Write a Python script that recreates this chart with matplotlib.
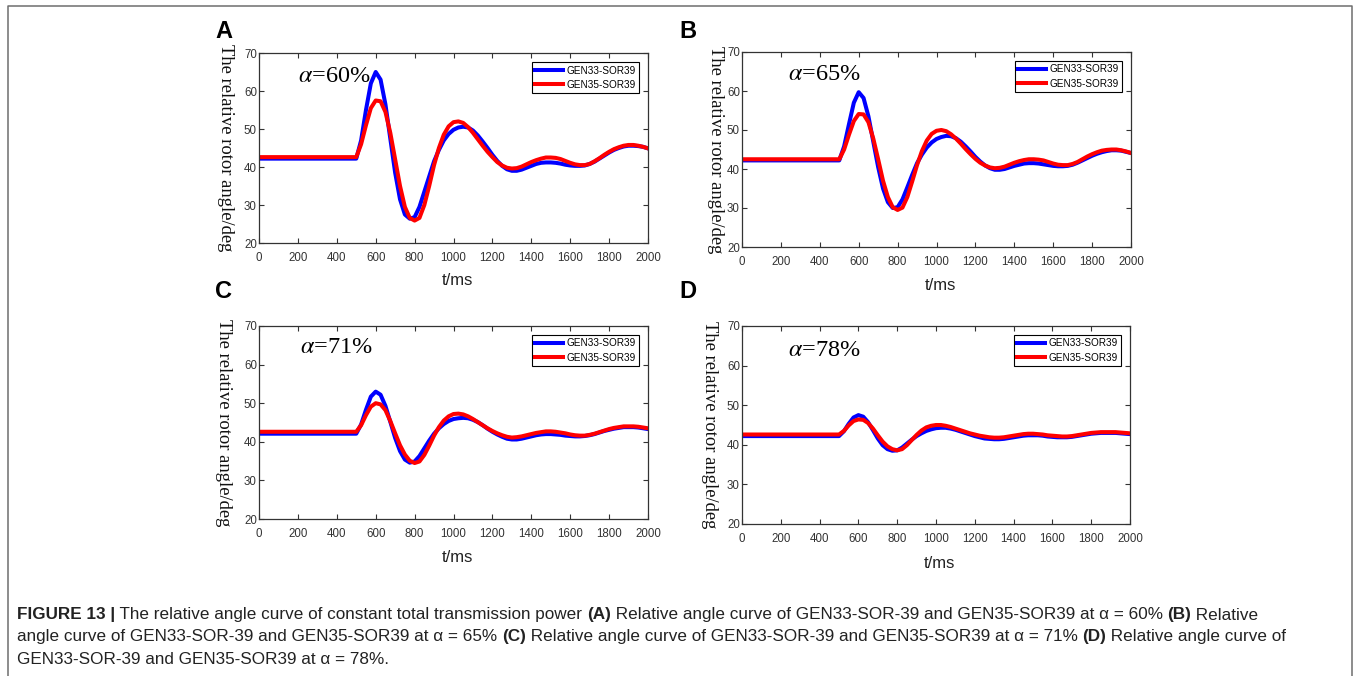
import matplotlib

matplotlib.use("Agg")
import matplotlib.pyplot as plt
from matplotlib.lines import Line2D

plt.rcParams["mathtext.fontset"] = "stix"
plt.rcParams["font.family"] = "Liberation Sans"

# sample times (ms): steady state until the fault at 500 ms, then 25 ms steps
T = [0, 500, 525, 550, 575, 600, 625, 650, 675, 700, 725, 750, 775, 800, 825, 850,
     875, 900, 925, 950, 975, 1000, 1025, 1050, 1075, 1100, 1125, 1150, 1175, 1200,
     1225, 1250, 1275, 1300, 1325, 1350, 1375, 1400, 1425, 1450, 1475, 1500, 1525,
     1550, 1575, 1600, 1625, 1650, 1675, 1700, 1725, 1750, 1775, 1800, 1825, 1850,
     1875, 1900, 1925, 1950, 1975, 2000]

panels = ["A", "B", "C", "D"]
alphas = ["60%", "65%", "71%", "78%"]
series_names = ["GEN33-SOR39", "GEN35-SOR39"]

gen33_a = [42.2, 42.2, 47, 55, 62, 65, 63, 56.5, 47.5, 38.5, 31.5, 27.5, 26.4, 26.8, 29.5, 33.5,
           37.5, 41.5, 44.5, 47, 48.7, 49.8, 50.4, 50.6, 50.4, 49.6, 48.3, 46.7, 45, 43.2,
           41.6, 40.3, 39.4, 39, 39, 39.3, 39.8, 40.3, 40.8, 41.1, 41.2, 41.2, 41.1,
           40.9, 40.6, 40.4, 40.3, 40.3, 40.4, 40.8, 41.4, 42.2, 43, 43.8, 44.5, 45,
           45.4, 45.6, 45.6, 45.5, 45.3, 44.9]
gen35_a = [42.6, 42.6, 46, 51, 55.5, 57.5, 57.3, 54.5, 49, 42, 35, 29.5, 26.6, 25.9, 26.6, 30,
           35, 40.5, 45, 48.5, 50.7, 51.8, 52, 51.6, 50.5, 49, 47.3, 45.6, 44, 42.6,
           41.3, 40.4, 39.8, 39.6, 39.7, 40.1, 40.7, 41.3, 41.8, 42.2, 42.5, 42.5, 42.4,
           42.1, 41.6, 41.1, 40.7, 40.5, 40.5, 40.8, 41.5, 42.3, 43.2, 44, 44.7, 45.2,
           45.6, 45.8, 45.8, 45.6, 45.3, 44.9]

gen33_b = [42.2, 42.2, 45.8, 51.5, 57, 59.7, 58.2, 53.5, 47, 40.5, 35, 31.5, 30, 30.2, 32.2, 35.3,
           38.5, 41.5, 43.7, 45.5, 46.8, 47.7, 48.2, 48.5, 48.4, 47.9, 47, 45.8, 44.5, 43.1,
           41.9, 40.9, 40.2, 39.8, 39.8, 40, 40.4, 40.8, 41.1, 41.4, 41.5, 41.5, 41.4,
           41.2, 41, 40.8, 40.7, 40.7, 40.8, 41.1, 41.6, 42.2, 42.8, 43.4, 43.9, 44.3,
           44.6, 44.8, 44.8, 44.7, 44.4, 44.1]
gen35_b = [42.5, 42.5, 45, 48.8, 52.3, 54.1, 54, 52, 47.8, 42.5, 37, 32.8, 30.2, 29.5, 30.1, 32.8,
           36.8, 41, 44.6, 47.3, 49, 49.8, 50, 49.7, 48.9, 47.8, 46.5, 45.1, 43.8, 42.6,
           41.6, 40.9, 40.4, 40.2, 40.3, 40.6, 41.1, 41.6, 42, 42.3, 42.5, 42.5, 42.4,
           42.2, 41.8, 41.4, 41.1, 41, 41, 41.3, 41.8, 42.5, 43.2, 43.8, 44.3, 44.7,
           44.9, 45, 45, 44.8, 44.5, 44.1]

gen33_c = [42.1, 42.1, 44.5, 48.3, 51.7, 53, 52.2, 49.3, 45.2, 41, 37.6, 35.4, 34.6, 34.9, 36.3, 38.3,
           40.3, 42.1, 43.5, 44.6, 45.4, 45.9, 46.1, 46.2, 46.1, 45.7, 45.1, 44.3, 43.4, 42.6,
           41.9, 41.3, 40.8, 40.6, 40.6, 40.8, 41.1, 41.4, 41.7, 41.9, 42, 42, 41.9,
           41.8, 41.6, 41.5, 41.4, 41.4, 41.5, 41.7, 42, 42.4, 42.8, 43.1, 43.4, 43.6,
           43.8, 43.8, 43.8, 43.7, 43.5, 43.3]
gen35_c = [42.6, 42.6, 44.3, 46.9, 49.1, 50, 49.7, 48.2, 45.4, 42.2, 39.1, 36.7, 35.1, 34.5, 34.9, 36.6,
           39, 41.6, 43.8, 45.5, 46.6, 47.2, 47.3, 47.1, 46.6, 45.9, 45.1, 44.3, 43.5, 42.8,
           42.2, 41.7, 41.3, 41.1, 41.2, 41.4, 41.7, 42, 42.3, 42.5, 42.7, 42.7, 42.6,
           42.4, 42.2, 41.9, 41.7, 41.6, 41.6, 41.8, 42.1, 42.5, 42.9, 43.3, 43.6, 43.8,
           44, 44, 44, 43.9, 43.7, 43.5]

gen33_d = [42.2, 42.2, 43.4, 45.3, 46.9, 47.5, 47.1, 45.7, 43.7, 41.6, 39.9, 38.9, 38.5, 38.6, 39.3, 40.3,
           41.3, 42.2, 42.9, 43.5, 43.9, 44.2, 44.3, 44.3, 44.1, 43.8, 43.4, 43, 42.6, 42.2,
           41.9, 41.6, 41.5, 41.4, 41.4, 41.5, 41.7, 41.9, 42.1, 42.3, 42.4, 42.4, 42.4,
           42.3, 42.1, 42, 41.9, 41.9, 41.9, 42, 42.2, 42.4, 42.6, 42.8, 42.9, 43,
           43, 43, 43, 42.9, 42.8, 42.7]
gen35_d = [42.6, 42.6, 43.5, 44.9, 46, 46.4, 46.3, 45.5, 44.1, 42.4, 40.8, 39.6, 38.9, 38.6, 38.9, 39.9,
           41.2, 42.5, 43.6, 44.4, 44.8, 45, 45, 44.8, 44.5, 44.1, 43.7, 43.3, 42.9, 42.6,
           42.3, 42.1, 41.9, 41.8, 41.8, 41.9, 42.1, 42.3, 42.5, 42.7, 42.8, 42.8, 42.7,
           42.6, 42.4, 42.3, 42.2, 42.1, 42.1, 42.2, 42.4, 42.6, 42.8, 43, 43.1, 43.2,
           43.2, 43.2, 43.2, 43.1, 43, 42.9]

gen33 = [gen33_a, gen33_b, gen33_c, gen33_d]
gen35 = [gen35_a, gen35_b, gen35_c, gen35_d]

x_ticks = [0, 200, 400, 600, 800, 1000, 1200, 1400, 1600, 1800, 2000]
y_ticks = [20, 30, 40, 50, 60, 70]

W, H = 1356, 676
# axes boxes in pixels: left, top, right, bottom
boxes = [(259, 53, 648, 243), (742, 52, 1131, 247), (259, 326, 648, 519), (742, 326, 1130, 524)]
ylabel_x = [-0.087, -0.069, -0.092, -0.085]
alpha_pos = [(202, 63.8), (238, 64.2), (212, 64.5), (238, 63.9)]
letter_pos = [(215, 32), (679, 32), (215, 292), (679, 292)]

fig = plt.figure(figsize=(W / 100, H / 100), dpi=100)
axis_grey = "#333333"

for i in range(4):
    l, t, r, b = boxes[i]
    ax = fig.add_axes([l / W, 1 - b / H, (r - l) / W, (b - t) / H])
    ax.plot(T, gen33[i], color="#0000ff", lw=2.9, label=series_names[0],
            solid_joinstyle="round")
    ax.plot(T, gen35[i], color="#ff0000", lw=2.9, label=series_names[1],
            solid_joinstyle="round")
    ax.set_xlim(0, 2000)
    ax.set_ylim(20, 70)
    ax.set_xticks(x_ticks)
    ax.set_yticks(y_ticks)
    ax.tick_params(direction="in", top=True, right=True, length=3.5, width=0.8,
                   color=axis_grey, labelcolor="#333333", labelsize=8.3)
    ax.tick_params(axis="x", pad=6.5)
    ax.tick_params(axis="y", pad=1.5)
    for s in ax.spines.values():
        s.set_color(axis_grey)
        s.set_linewidth(0.9)
    ax.set_ylabel("The relative rotor angle/deg", family="Liberation Serif", fontsize=13.4,
                  rotation=270, va="center", color="#111111")
    ax.yaxis.set_label_coords(ylabel_x[i], 0.5)
    ax.set_xlabel("t/ms", fontsize=12, color="#222222")
    ax.xaxis.set_label_coords(0.51, -0.16)
    ax.text(alpha_pos[i][0], alpha_pos[i][1], r"$\alpha$=" + alphas[i],
            family="Liberation Serif", fontsize=17.5, va="center", ha="left")
    leg = ax.legend(loc="upper right", fontsize=7.2, frameon=True, fancybox=False,
                    edgecolor="#000000", framealpha=1, handlelength=2.8,
                    borderpad=0.35, labelspacing=0.42, handletextpad=0.3,
                    borderaxespad=0.9)
    leg.get_frame().set_linewidth(0.8)
    fig.text(letter_pos[i][0] / W, 1 - letter_pos[i][1] / H, panels[i],
             weight="bold", fontsize=17, va="center", ha="left")

# figure frame (open at the bottom, as in the page crop)
fx0, fx1, fy1 = 8 / W, 1352 / W, 1 - 6 / H
fig.add_artist(Line2D([fx0, fx0, fx1, fx1], [0, fy1, fy1, 0], transform=fig.transFigure,
                      color="#6e6e6e", lw=1.1))

# caption: pieces of (text, bold) laid out one after another on each line
cap_lines = [
    [("FIGURE 13 |", True), (" The relative angle curve of constant total transmission power ", False),
     ("(A)", True), (" Relative angle curve of GEN33-SOR-39 and GEN35-SOR39 at \u03b1 = 60% ", False),
     ("(B)", True), (" Relative", False)],
    [("angle curve of GEN33-SOR-39 and GEN35-SOR39 at \u03b1 = 65% ", False), ("(C)", True),
     (" Relative angle curve of GEN33-SOR-39 and GEN35-SOR39 at \u03b1 = 71% ", False),
     ("(D)", True), (" Relative angle curve of", False)],
    [("GEN33-SOR-39 and GEN35-SOR39 at \u03b1 = 78%.", False)],
]
cap_y = [615, 637, 660]
renderer = fig.canvas.get_renderer()
for line, yy in zip(cap_lines, cap_y):
    x = 17
    for txt, bold in line:
        tt = fig.text(x / W, 1 - yy / H, txt, fontsize=12.3,
                      weight="bold" if bold else "normal", va="center", ha="left",
                      color="#222222")
        x += tt.get_window_extent(renderer).width

fig.savefig("out.png", dpi=100)
